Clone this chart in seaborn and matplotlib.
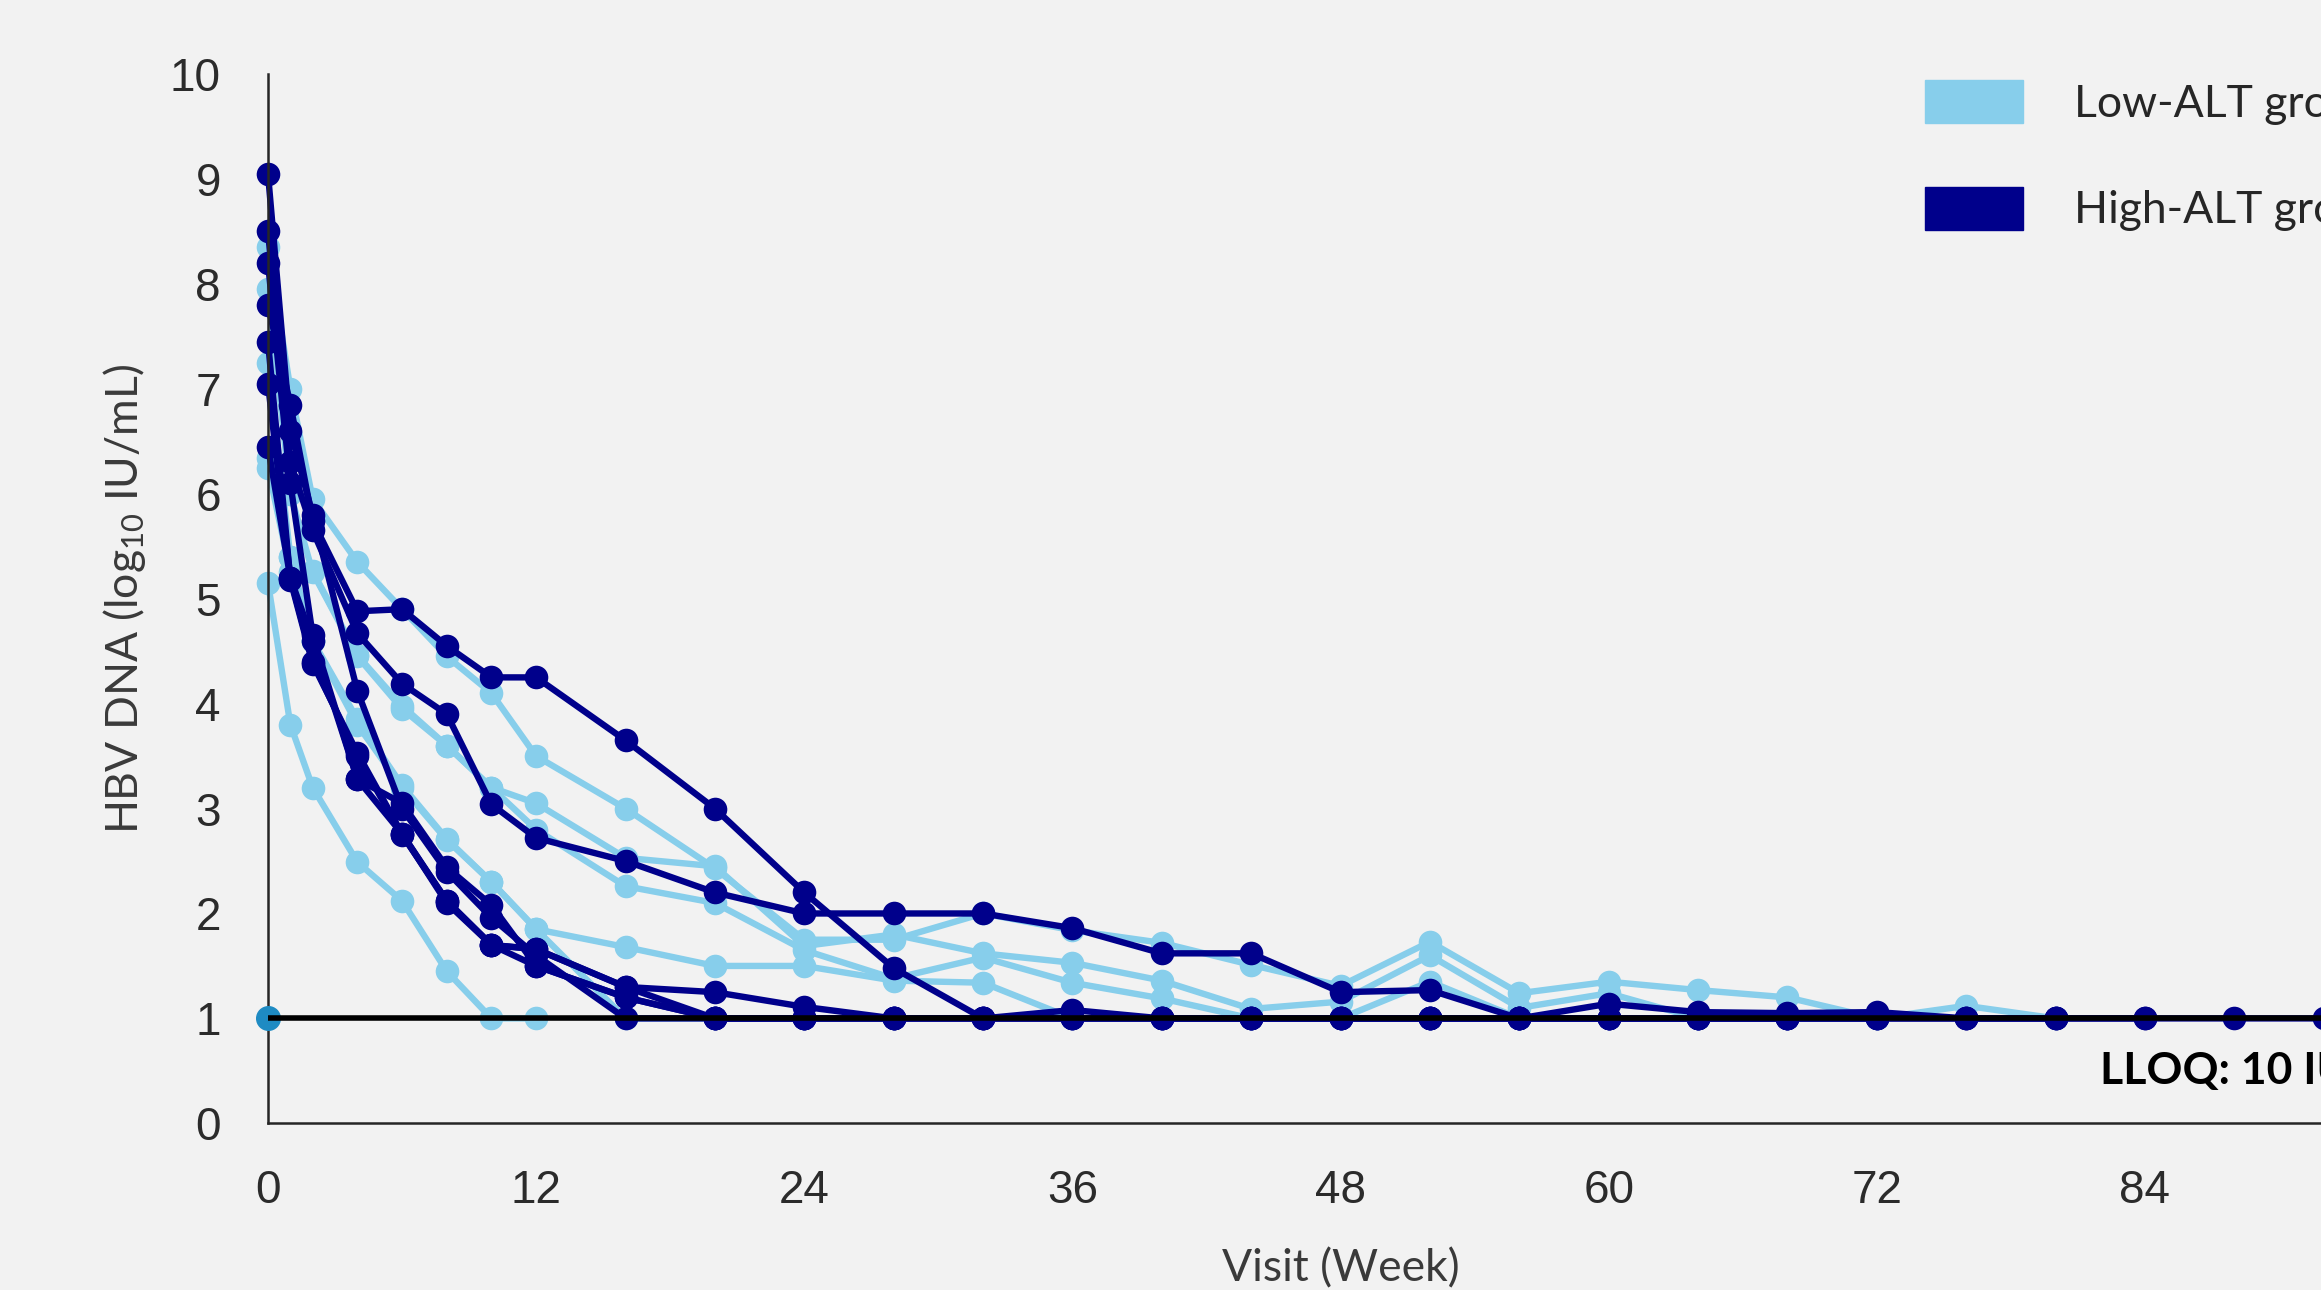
import pandas as pd
import matplotlib
matplotlib.use('Agg')
from matplotlib import pyplot as plt
from matplotlib.patches import Patch
import seaborn as sns

# visit weeks shared by all subjects
WEEKS = [0, 1, 2, 4, 6, 8, 10, 12, 16, 20, 24, 28, 32, 36, 40, 44, 48, 52,
         56, 60, 64, 68, 72, 76, 80, 84, 88, 92]

# HBV DNA (log10 IU/mL) per subject, listed from week 0 onwards
low_1 = [5.15, 3.8, 3.2, 2.49, 2.12, 1.45, 1.0, 1.0]
low_2 = [8.35, 7.0, 5.95, 5.35, 4.9, 4.45, 4.1, 3.5, 3.0, 2.43, 1.75, 1.75,
         2.0, 1.84, 1.72, 1.51, 1.31, 1.73, 1.24, 1.35, 1.27, 1.2, 1.0, 1.12,
         1.0]
low_3 = [7.25, 5.4, 5.26, 4.46, 3.98, 3.6, 3.2, 3.05, 2.53, 2.45, 1.69, 1.8,
         1.62, 1.53, 1.36, 1.09, 1.16, 1.6, 1.1, 1.24, 1.0, 1.0, 1.0]
low_4 = [6.34, 5.4, 4.6, 3.85, 3.22, 2.71, 2.3, 1.85, 1.68, 1.5, 1.5, 1.36,
         1.34, 1.0, 1.0, 1.0, 1.0, 1.0, 1.0]
low_5 = [7.95, 6.0, 5.25, 4.45, 3.95, 3.6, 3.2, 2.8, 2.26, 2.1, 1.65, 1.38,
         1.58, 1.34, 1.19, 1.0, 1.0, 1.35, 1.0, 1.0, 1.0]
low_6 = [6.25, 5.25, 4.6, 3.8, 3.2, 2.7, 2.3, 1.85, 1.0, 1.0, 1.0, 1.0]

high_1 = [7.8, 6.85, 5.74, 4.88, 4.9, 4.55, 4.25, 4.25, 3.65, 3.0, 2.2, 1.48,
          1.0, 1.0, 1.0, 1.0, 1.0, 1.0, 1.0, 1.0, 1.0, 1.0, 1.0, 1.0, 1.0,
          1.0, 1.0, 1.0]
high_2 = [8.5, 6.3, 5.65, 4.67, 4.19, 3.9, 3.04, 2.72, 2.5, 2.2, 2.0, 2.0,
          2.0, 1.86, 1.62, 1.62, 1.25, 1.27, 1.0, 1.14, 1.06, 1.05, 1.06, 1.0,
          1.0, 1.0]
high_3 = [7.45, 5.18, 4.38, 3.53, 2.76, 2.12, 1.7, 1.66, 1.3, 1.25, 1.11, 1.0,
          1.0, 1.08, 1.0, 1.0, 1.0, 1.0, 1.0, 1.0, 1.0, 1.0]
high_4 = [8.2, 6.1, 4.65, 3.28, 3.05, 2.44, 2.08, 1.5, 1.2, 1.0, 1.0, 1.0,
          1.0, 1.0, 1.0, 1.0, 1.0, 1.0, 1.0, 1.0, 1.0, 1.0, 1.0, 1.0, 1.0]
high_5 = [9.05, 6.6, 5.8, 4.12, 3.0, 2.4, 1.96, 1.6, 1.0, 1.0, 1.0, 1.0, 1.0,
          1.0, 1.0, 1.0, 1.0, 1.0, 1.0, 1.0, 1.0, 1.0, 1.0]
high_6 = [7.05, 5.2, 4.6, 3.28, 2.76, 2.1, 1.7, 1.5, 1.2, 1.0, 1.0, 1.0]
high_7 = [6.45, 5.2, 4.4, 3.5, 2.75, 2.12, 1.7, 1.66, 1.3, 1.0, 1.0]

GROUPS = ['Low-ALT group', 'High-ALT group']
LIGHT = '#87CEEB'
DARK = '#00008B'
LLOQ = 1.0

subjects = [('L1', low_1), ('L2', low_2), ('L3', low_3), ('L4', low_4),
            ('L5', low_5), ('L6', low_6),
            ('H1', high_1), ('H2', high_2), ('H3', high_3), ('H4', high_4),
            ('H5', high_5), ('H6', high_6), ('H7', high_7)]

rows = []
for name, values in subjects:
    group = GROUPS[0] if name.startswith('L') else GROUPS[1]
    for week, value in zip(WEEKS, values):
        if value is not None:
            rows.append({'subject': name, 'group': group,
                         'week': week, 'dna': value})
df = pd.DataFrame(rows)

sns.set_theme(style='white')
plt.rcParams['font.family'] = ['Lato', 'DejaVu Sans']
plt.rcParams['mathtext.fontset'] = 'custom'
plt.rcParams['mathtext.rm'] = 'Lato'
plt.rcParams['mathtext.default'] = 'rm'

bg = '#F2F2F2'
fig = plt.figure(figsize=(23.21, 12.90), dpi=100, facecolor=bg)
ax = fig.add_axes([0.11547, 0.1292, 0.9242, 0.8134], facecolor=bg)

sns.lineplot(data=df, x='week', y='dna', hue='group', units='subject',
             estimator=None, sort=False, hue_order=GROUPS,
             palette={GROUPS[0]: LIGHT, GROUPS[1]: DARK},
             marker='o', markersize=17, linewidth=4.6, legend=False, ax=ax)
for line in ax.lines:
    line.set_markeredgecolor(line.get_color())
    line.set_markeredgewidth(0)
    line.set_clip_on(False)

# LLOQ reference line
ax.axhline(LLOQ, color='black', lw=4, zorder=5)
ax.plot([0], [LLOQ], 'o', color='#1E8BC3', ms=17, zorder=4, clip_on=False)
ax.text(82, 0.5, 'LLOQ: 10 IU/mL', fontsize=32, fontweight='bold',
        color='black', ha='left', va='center')

ax.set_xlim(0, 96)
ax.set_ylim(0, 10)
ax.set_xticks(range(0, 97, 12))
ax.set_yticks(range(0, 11))
ax.tick_params(axis='both', length=0, labelsize=33, labelcolor='#2B2B2B',
               labelfontfamily='Liberation Sans')
ax.tick_params(axis='x', pad=33)
ax.tick_params(axis='y', pad=34)
sns.despine(ax=ax)
for side in ['left', 'bottom']:
    ax.spines[side].set_color('#262626')
    ax.spines[side].set_linewidth(1.8)

ax.set_xlabel('Visit (Week)', fontsize=32, color='#3A3A3A')
ax.set_ylabel('HBV DNA (log$_{10}$ IU/mL)', fontsize=32, color='#3A3A3A')
ax.xaxis.set_label_coords(0.5, -0.119)
ax.yaxis.set_label_coords(-0.056, 0.5)

handles = [Patch(facecolor=LIGHT, edgecolor=LIGHT),
           Patch(facecolor=DARK, edgecolor=DARK)]
fig.legend(handles=handles, labels=GROUPS, loc='upper left',
           bbox_to_anchor=(1903 / 2321, 1 - 58 / 1290), frameon=False,
           fontsize=32, handlelength=2.19, handleheight=1.1,
           handletextpad=1.15, labelspacing=1.4, borderpad=0,
           labelcolor='#262626')

fig.savefig('out.png', dpi=100, facecolor=bg)
plt.close()
